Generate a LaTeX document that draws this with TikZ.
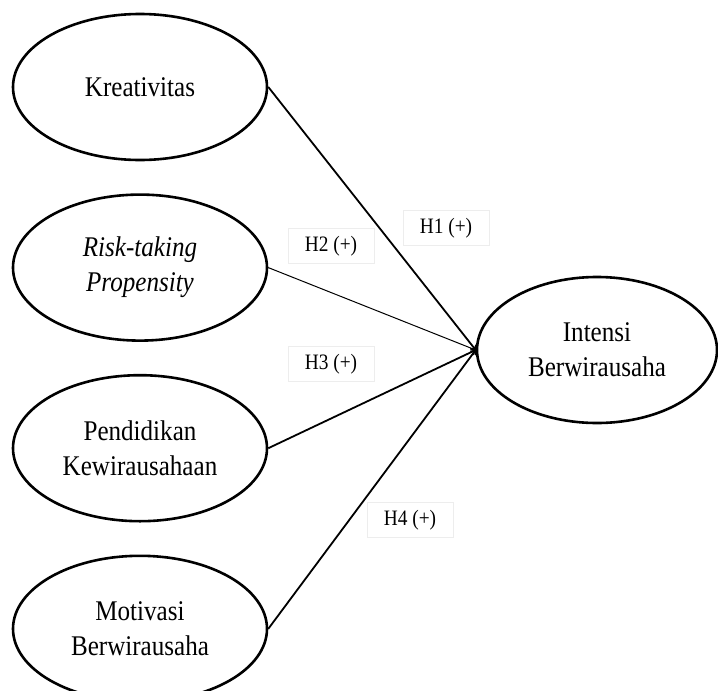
\documentclass[tikz,border=0pt]{standalone}
\usepackage{fontspec}
\setmainfont{Liberation Serif}[FakeStretch=0.88]
\usepackage{tikz}
\usetikzlibrary{arrows,shapes,positioning}

\begin{document}
\begin{tikzpicture}[x=1pt,y=-1pt,>=to,
       construct/.style={ellipse, draw, line width=2.6pt, minimum width=254pt,
                         minimum height=146pt, inner sep=0pt, align=center,
                         font=\fontsize{28.5}{35}\selectfont},
       hyplabel/.style={rectangle, draw=black!7, line width=0.6pt,
                        minimum width=86pt, minimum height=35pt,
                        font=\fontsize{22}{26}\selectfont},
       path/.style={->, line width=1.8pt}]
	\useasboundingbox (0,0) rectangle (718,691);
	%% Exogenous constructs
	\node [construct] at (140,87) (krea) {Kreativitas};
	\node [construct,below=32pt of krea] (risk) {\itshape Risk-taking\\\itshape Propensity};
	\node [construct,below=32pt of risk] (pend) {Pendidikan\\Kewirausahaan};
	\node [construct,below=32pt of pend] (moti) {Motivasi\\Berwirausaha};
	%% Endogenous construct
	\node [construct,minimum width=240pt] at (597,350) (inten) {Intensi\\Berwirausaha};

	%% Hypotheses
	\node [hyplabel] at (446,228) (h1) {H1 (+)};
	\node [hyplabel] at (331,246) (h2) {H2 (+)};
	\node [hyplabel] at (331,364) (h3) {H3 (+)};
	\node [hyplabel] at (410,520) (h4) {H4 (+)};

	%% Paths
	\draw[path] (krea.east) -- (inten.west);
	\draw[path,line width=1pt] (risk.east) -- (inten.west);
	\draw[path] (pend.east) -- (inten.west);
	\draw[path] (moti.east) -- (inten.west);
\end{tikzpicture}
\end{document}
